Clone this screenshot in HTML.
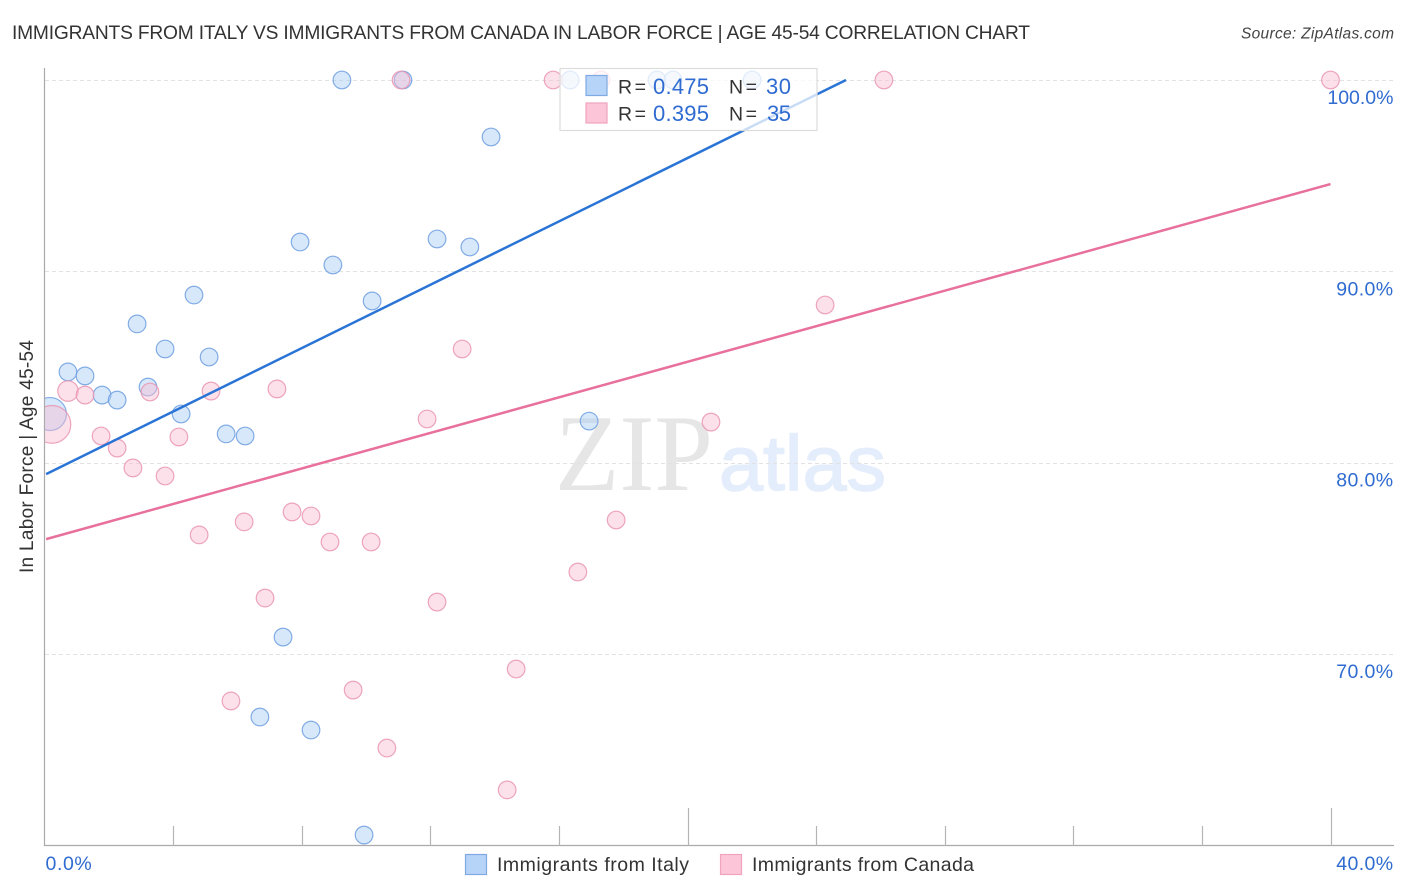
<!DOCTYPE html>
<html lang="en">
<head>
<meta charset="utf-8">
<title>Immigrants from Italy vs Immigrants from Canada in Labor Force</title>
<style>
html,body{margin:0;padding:0;background:#fff;}
body{width:1406px;height:892px;overflow:hidden;}
svg{display:block;font-family:"Liberation Sans",sans-serif;}
</style>
</head>
<body>
<svg id="chart" xmlns="http://www.w3.org/2000/svg" width="1406" height="892" viewBox="0 0 1406 892">
  <defs><clipPath id="plot-clip"><rect x="45" y="60" width="1349" height="786"/></clipPath></defs>
  <rect width="1406" height="892" fill="#fff"/>
  <text x="12" y="39" font-size="19.2" fill="#333" textLength="1018" lengthAdjust="spacing">IMMIGRANTS FROM ITALY VS IMMIGRANTS FROM CANADA IN LABOR FORCE | AGE 45-54 CORRELATION CHART</text>
  <text x="1241" y="38.500" font-size="15.500" font-style="italic" fill="#444" textLength="153" lengthAdjust="spacing">Source: ZipAtlas.com</text>
  <g>
    <text x="555" y="490" font-family="'Liberation Serif',serif" font-size="109" fill="#e6e6e6" textLength="158" lengthAdjust="spacingAndGlyphs">ZIP</text>
    <text x="719" y="490" font-size="78" fill="#e4edfb" stroke="#e4edfb" stroke-width="1.500" textLength="167" lengthAdjust="spacingAndGlyphs">atlas</text>
  </g>
  <g id="grid"></g>
  <g id="axes"></g>
  <g id="points" clip-path="url(#plot-clip)"></g>
  <g id="trends"></g>
  <g>
    <rect x="560" y="68.500" width="257" height="62" fill="#fff" fill-opacity="0.75" stroke="#dcdcdc" stroke-width="1.200"/>
    <rect x="586" y="75.500" width="21" height="20" fill="#b6d3f8" stroke="#7fa9e2" stroke-width="1.200"/>
    <rect x="586" y="103" width="21" height="20" fill="#fcc6d8" stroke="#f1a3bc" stroke-width="1.200"/>
    <text x="618" y="93.500" font-size="19.500" fill="#333" textLength="28" lengthAdjust="spacing">R =</text>
    <text x="653" y="94" font-size="22" fill="#2f6bd0" textLength="56" lengthAdjust="spacing">0.475</text>
    <text x="729" y="93.500" font-size="19.500" fill="#333" textLength="28" lengthAdjust="spacing">N =</text>
    <text x="766" y="94" font-size="22" fill="#2f6bd0" textLength="25" lengthAdjust="spacing">30</text>
    <text x="618" y="120.500" font-size="19.500" fill="#333" textLength="28" lengthAdjust="spacing">R =</text>
    <text x="653" y="121" font-size="22" fill="#2f6bd0" textLength="56" lengthAdjust="spacing">0.395</text>
    <text x="729" y="120.500" font-size="19.500" fill="#333" textLength="28" lengthAdjust="spacing">N =</text>
    <text x="767" y="121" font-size="22" fill="#2f6bd0" textLength="24" lengthAdjust="spacing">35</text>
  </g>
  <text transform="translate(33,573) rotate(-90)" font-size="19" fill="#333" textLength="233" lengthAdjust="spacing">In Labor Force | Age 45-54</text>
  <g>
    <rect x="465.500" y="854.500" width="21" height="20" fill="#b6d3f8" stroke="#7fa9e2" stroke-width="1.200"/>
    <text x="497" y="871" font-size="19.5" fill="#333" textLength="192" lengthAdjust="spacing">Immigrants from Italy</text>
    <rect x="720.500" y="854.500" width="21" height="20" fill="#fcc6d8" stroke="#f1a3bc" stroke-width="1.200"/>
    <text x="752" y="871" font-size="19.5" fill="#333" textLength="222" lengthAdjust="spacing">Immigrants from Canada</text>
  </g>
</svg>
<script>
const yTicks = [100, 90, 80, 70];
const yTickLabels = ["100.0%", "90.0%", "80.0%", "70.0%"];
const xTicks = [0, 4, 8, 12, 16, 20, 24, 28, 32, 36, 40];
const xMajorTicks = [20, 40];
const xEndLabels = ["0.0%", "40.0%"];

const italyX = [9.25, 11.15, 16.35, 19.05, 19.55, 22.01, 13.89, 7.95, 12.21, 13.23, 8.97, 10.19, 4.65, 2.88, 3.75, 5.12, 0.73, 1.26, 3.22, 1.79, 2.26, 4.25, 0.17, 5.65, 6.24, 16.94, 7.42, 6.70, 8.29, 9.94];
const italyY = [100, 100, 100, 100, 100, 100, 97.02, 91.53, 91.69, 91.27, 90.33, 88.45, 88.76, 87.25, 85.94, 85.52, 84.74, 84.53, 83.95, 83.53, 83.27, 82.54, 82.54, 81.50, 81.39, 82.17, 70.88, 66.70, 66.02, 60.53];
const italyWeight = [1, 1, 1, 1, 1, 1, 1, 1, 1, 1, 1, 1, 1, 1, 1, 1, 1, 1, 1, 1, 1, 1, 3.5, 1, 1, 1, 1, 1, 1, 1];

const canadaX = [15.82, 11.09, 17.31, 26.11, 40, 24.28, 12.99, 0.73, 1.26, 3.28, 5.18, 7.23, 11.90, 20.73, 0.23, 1.76, 4.18, 2.26, 2.75, 3.75, 7.70, 8.29, 17.78, 6.21, 4.81, 8.88, 10.16, 16.59, 6.86, 12.21, 14.67, 5.80, 9.60, 10.65, 14.39];
const canadaY = [100, 100, 100, 100, 100, 88.24, 85.94, 83.74, 83.53, 83.69, 83.74, 83.85, 82.28, 82.12, 82.0, 81.39, 81.34, 80.76, 79.72, 79.30, 77.42, 77.21, 77.00, 76.90, 76.22, 75.85, 75.85, 74.28, 72.92, 72.71, 69.21, 67.54, 68.11, 65.08, 62.89];
const canadaWeight = [1, 1, 1, 1, 1, 1, 1, 1.35, 1, 1, 1, 1, 1, 1, 4.6, 1, 1, 1, 1, 1, 1, 1, 1, 1, 1, 1, 1, 1, 1, 1, 1, 1, 1, 1, 1];

const italyTrendX = [0.05, 24.93];
const italyTrendY = [79.4, 100];
const canadaTrendX = [0.05, 40];
const canadaTrendY = [76.0, 94.56];

const NS = "http://www.w3.org/2000/svg";
function xScale(v) { return 44.5 + v * 32.15; }
function yScale(v) { return 80 + (100 - v) * 19.13; }
function radius(w) { return 8.8 * Math.sqrt(w); }
function make(tag, attrs, parent) {
  const el = document.createElementNS(NS, tag);
  for (const k in attrs) el.setAttribute(k, attrs[k]);
  parent.appendChild(el);
  return el;
}
const grid = document.getElementById("grid");
const axes = document.getElementById("axes");
const points = document.getElementById("points");
const trends = document.getElementById("trends");

yTicks.forEach(function (t, i) {
  const y = Math.round(yScale(t)) + 0.5;
  const line = make("line", { x1: 45, x2: 1394, y1: y, y2: y, stroke: "#e2e2e2", "stroke-width": 1, "stroke-dasharray": "4 3" }, grid);
  
  
  const spacing = yTickLabels[i].length > 5 ? 0 : 0.4;
  const label = make("text", { x: 1393.5, y: yScale(t) + 24, "text-anchor": "end", "font-size": 19.5, fill: "#2f6bd0", "letter-spacing": spacing }, axes);
  
  
  label.textContent = yTickLabels[i];
});

const yAxis = make("line", { x1: 44.5, x2: 44.5, y1: 68, y2: 846, stroke: "#aaa", "stroke-width": 1.2 }, axes);


const xAxis = make("line", { x1: 44, x2: 1394, y1: 845.5, y2: 845.5, stroke: "#aaa", "stroke-width": 1.2 }, axes);



xTicks.slice(1).forEach(function (t) {
  const x = Math.round(xScale(t)) + 0.5;
  const top = xMajorTicks.indexOf(t) >= 0 ? 808 : 826;
  const tick = make("line", { x1: x, x2: x, y1: top, y2: 846, stroke: "#b5b5b5", "stroke-width": 1.2 }, axes);
  
  
});

const xLabelStart = make("text", { x: xScale(xTicks[0]) + 1, y: 870, "font-size": 19.5, fill: "#2f6bd0", "letter-spacing": 0.6 }, axes);


xLabelStart.textContent = xEndLabels[0];
const xLabelEnd = make("text", { x: 1393.5, y: 870, "text-anchor": "end", "font-size": 19.5, fill: "#2f6bd0", "letter-spacing": 0.4 }, axes);


xLabelEnd.textContent = xEndLabels[1];

italyX.forEach(function (v, i) {
  const c = make("circle", { cx: xScale(v), cy: yScale(italyY[i]), r: radius(italyWeight[i]), fill: "#a9cbf6", "fill-opacity": 0.45, stroke: "#6f9fe0", "stroke-opacity": 0.85, "stroke-width": 1.200 }, points);
  
  
});
canadaX.forEach(function (v, i) {
  const c = make("circle", { cx: xScale(v), cy: yScale(canadaY[i]), r: radius(canadaWeight[i]), fill: "#f8bdd0", "fill-opacity": 0.45, stroke: "#ea95b2", "stroke-opacity": 0.85, "stroke-width": 1.200 }, points);
  
  
});

const italyLine = make("line", { x1: xScale(italyTrendX[0]), y1: yScale(italyTrendY[0]), x2: xScale(italyTrendX[1]), y2: yScale(italyTrendY[1]), stroke: "#2a74d6", "stroke-width": 2.5 }, trends);


const canadaLine = make("line", { x1: xScale(canadaTrendX[0]), y1: yScale(canadaTrendY[0]), x2: xScale(canadaTrendX[1]), y2: yScale(canadaTrendY[1]), stroke: "#e8709c", "stroke-width": 2.5 }, trends);


</script>
</body>
</html>
